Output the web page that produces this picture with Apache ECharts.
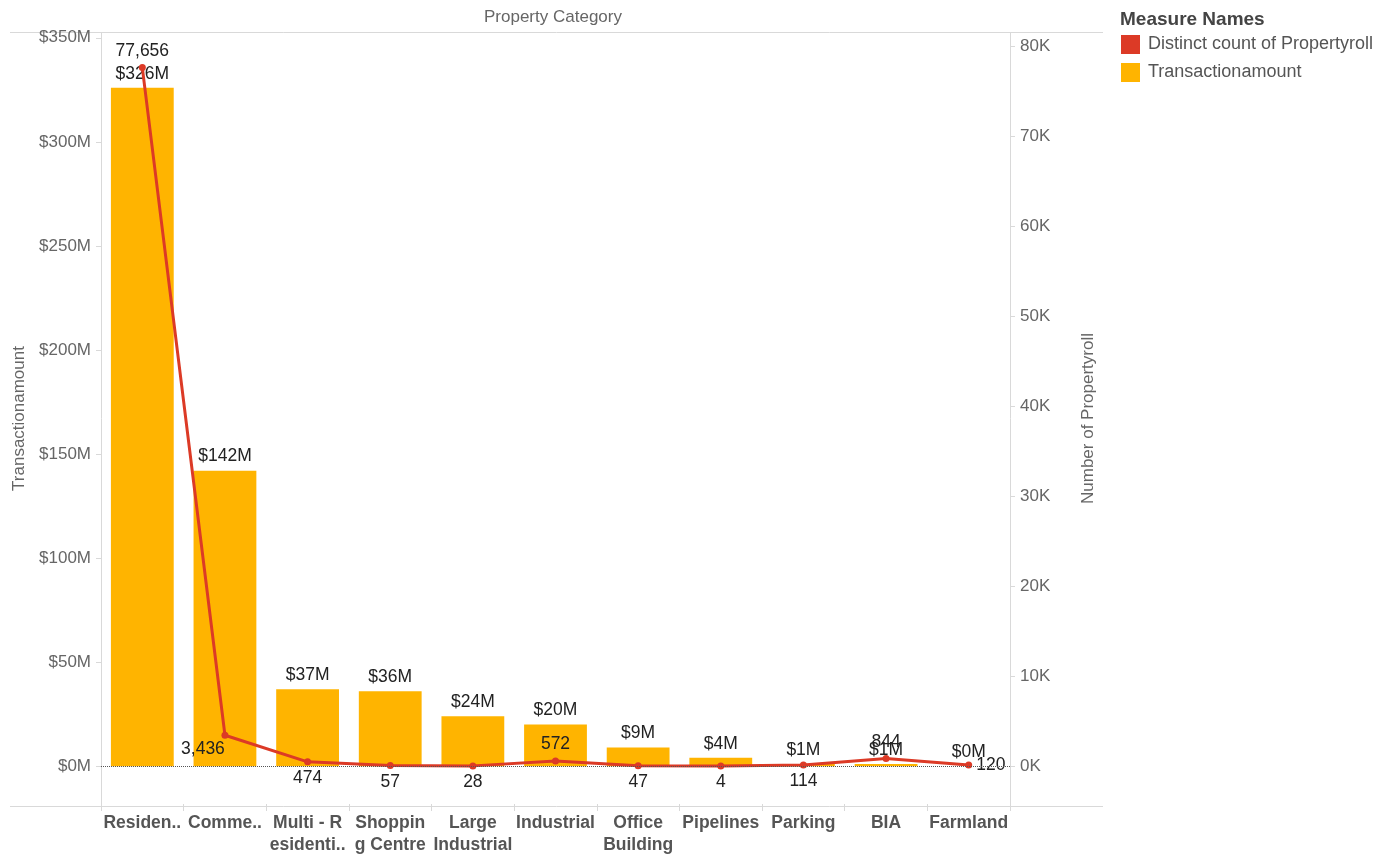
<!DOCTYPE html>
<html>
<head>
<meta charset="utf-8">
<title>Property Category</title>
<script src="https://cdn.jsdelivr.net/npm/echarts@6/dist/echarts.min.js"></script>
<style>
  html, body { margin: 0; padding: 0; background: #fff; }
  #chart { width: 1392px; height: 856px; }
</style>
</head>
<body>
<div id="chart"></div>
<script>
// Categories (as shown in the header cells)
const categories = ['Residen..', 'Comme..', 'Multi - R\nesidenti..', 'Shoppin\ng Centre', 'Large\nIndustrial',
  'Industrial', 'Office\nBuilding', 'Pipelines', 'Parking', 'BIA', 'Farmland'];

// Transaction amount, in millions of dollars
const transactionAmount = [326, 142, 37, 36, 24, 20, 9, 4, 1, 1, 0];

// Distinct count of property roll numbers
const propertyCount = [77656, 3436, 474, 57, 28, 572, 47, 4, 114, 844, 120];

// Label placement for the count labels
const countLabelPos = ['top', 'bottom', 'bottom', 'bottom', 'bottom', 'top', 'bottom', 'bottom', 'bottom', 'top', 'right'];

// Axis tick values
const amountTicks = [0, 50, 100, 150, 200, 250, 300, 350];
const countTicks = [0, 10000, 20000, 30000, 40000, 50000, 60000, 70000, 80000];

const FONT = "'Liberation Sans', Arial, sans-serif";
const RED = '#dc3a26';
const GOLD = '#ffb400';
const AXIS_GRAY = '#d9d9d9';
const TEXT_GRAY = '#666';

const chart = echarts.init(document.getElementById('chart'));

const countData = propertyCount.map((v, i) => {
  const item = { value: v, label: { position: countLabelPos[i] } };
  if (i === 1) item.label.offset = [-22, -3];
  return item;
});

chart.setOption({
  animation: false,
  textStyle: { fontFamily: FONT },
  title: {
    text: 'Measure Names',
    left: 1115, top: 5,
    textStyle: { fontSize: 19, fontWeight: 'bold', color: '#444', fontFamily: FONT }
  },
  legend: {
    orient: 'vertical',
    left: 1116, top: 30,
    itemWidth: 19, itemHeight: 19, itemGap: 9,
    icon: 'rect',
    data: ['Distinct count of Propertyroll', 'Transactionamount'],
    textStyle: { fontSize: 18, color: '#555', fontFamily: FONT, padding: [0, 0, 0, 3] }
  },
  grid: { left: 101, right: 382, top: 33, bottom: 50 },
  xAxis: {
    type: 'category',
    data: categories,
    axisLine: { show: false, onZero: false },
    axisTick: { show: true, length: 7, lineStyle: { color: AXIS_GRAY } },
    axisLabel: {
      interval: 0, margin: 8, fontSize: 17.5, fontWeight: 'bold',
      color: '#555', lineHeight: 22, fontFamily: FONT
    }
  },
  yAxis: [
    {
      type: 'value',
      min: -18.2, max: 352.3,
      name: 'Transactionamount',
      nameLocation: 'middle', nameGap: 69, nameRotate: 90,
      nameTextStyle: { fontSize: 17, color: TEXT_GRAY, fontFamily: FONT },
      axisLine: { show: true, lineStyle: { color: AXIS_GRAY } },
      axisTick: { show: true, length: 5, customValues: amountTicks, lineStyle: { color: AXIS_GRAY } },
      axisLabel: {
        customValues: amountTicks, fontSize: 17, color: TEXT_GRAY, margin: 10,
        formatter: v => '$' + v + 'M'
      },
      splitLine: { show: false }
    },
    {
      type: 'value',
      min: -4210, max: 81500,
      position: 'right',
      name: 'Number of Propertyroll',
      nameLocation: 'middle', nameGap: 70, nameRotate: 90,
      nameTextStyle: { fontSize: 17, color: TEXT_GRAY, fontFamily: FONT },
      axisLine: { show: true, lineStyle: { color: AXIS_GRAY } },
      axisTick: { show: true, length: 5, customValues: countTicks, lineStyle: { color: AXIS_GRAY } },
      axisLabel: {
        customValues: countTicks, fontSize: 17, color: TEXT_GRAY, margin: 10,
        formatter: v => (v / 1000) + 'K'
      },
      splitLine: { show: false }
    }
  ],
  series: [
    {
      name: 'Transactionamount',
      type: 'bar',
      yAxisIndex: 0,
      data: transactionAmount,
      barWidth: '76%',
      itemStyle: { color: GOLD },
      label: {
        show: true, position: 'top', distance: 5,
        fontSize: 17.5, color: '#222', fontFamily: FONT,
        formatter: p => '$' + p.value + 'M'
      },
      markLine: {
        silent: true, symbol: 'none',
        label: { show: false },
        lineStyle: { type: 'dotted', color: '#555', width: 1 },
        data: [{ yAxis: 0 }]
      },
      z: 2
    },
    {
      name: 'Distinct count of Propertyroll',
      type: 'line',
      yAxisIndex: 1,
      data: countData,
      symbol: 'circle', symbolSize: 7,
      itemStyle: { color: RED },
      lineStyle: { color: RED, width: 3 },
      label: {
        show: true, distance: 4,
        fontSize: 17.5, color: '#222', fontFamily: FONT,
        formatter: p => p.value.toLocaleString('en-US')
      },
      z: 3
    }
  ],
  graphic: [
    {
      type: 'text', left: 484, top: 9,
      style: { text: 'Property Category', fontSize: 17, fill: TEXT_GRAY, fontFamily: FONT }
    },
    {
      type: 'line', silent: true,
      shape: { x1: 10, y1: 32.5, x2: 1103, y2: 32.5 },
      style: { stroke: AXIS_GRAY, lineWidth: 1 }
    },
    {
      type: 'line', silent: true,
      shape: { x1: 10, y1: 806.5, x2: 1103, y2: 806.5 },
      style: { stroke: AXIS_GRAY, lineWidth: 1 }
    }
  ]
});
</script>
</body>
</html>
